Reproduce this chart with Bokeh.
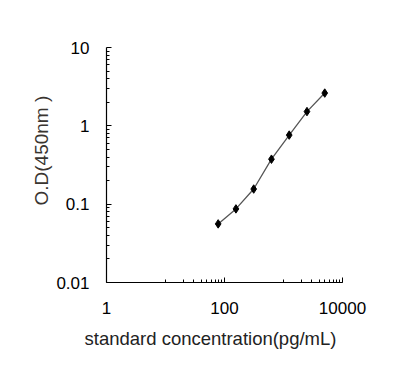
from bokeh.plotting import figure
from bokeh.models import FixedTicker, Range1d, Title
from bokeh.embed import file_html
from bokeh.resources import INLINE

# Standard curve data
conc = [78.125, 156.25, 312.5, 625, 1250, 2500, 5000]
od = [0.056, 0.087, 0.156, 0.375, 0.762, 1.52, 2.62]

# Tick positions
x_major = [1, 100, 10000]
x_minor = [10, 20, 30, 40, 50, 60, 70, 80, 90, 100,
           1000, 2000, 3000, 4000, 5000, 6000, 7000, 8000, 9000, 10000]
y_major = [0.01, 0.1, 1, 10]
y_minor = [0.02, 0.03, 0.04, 0.05, 0.06, 0.07, 0.08, 0.09,
           0.2, 0.3, 0.4, 0.5, 0.6, 0.7, 0.8, 0.9,
           2, 3, 4, 5, 6, 7, 8, 9]

x_title = "standard concentration(pg/mL)"
y_title = "O.D(450nm )"

FONT = "Liberation Sans"
W, H = 388, 361

p = figure(width=W, height=H, x_axis_type="log", y_axis_type="log",
           x_range=Range1d(1, 10000), y_range=Range1d(0.01, 10),
           output_backend="svg", toolbar_location=None,
           min_border_left=106, min_border_right=W - 342,
           min_border_top=47, min_border_bottom=H - 283)

p.outline_line_color = None
p.xgrid.visible = False
p.ygrid.visible = False
p.background_fill_color = "white"
p.border_fill_color = "white"

p.line(conc, od, line_color="#555555", line_width=1.3)
p.scatter(conc, od, marker="diamond", size=8.5, color="black")

for ax in (p.xaxis[0], p.yaxis[0]):
    ax.axis_line_color = "black"
    ax.axis_line_width = 1.2
    ax.major_tick_out = 0
    ax.major_tick_in = 5
    ax.minor_tick_out = 0
    ax.minor_tick_in = 3
    ax.major_tick_line_color = "black"
    ax.minor_tick_line_color = "black"
    ax.major_label_text_font = FONT
    ax.major_label_text_font_size = "17px"
    ax.major_label_text_color = "black"

p.xaxis.ticker = FixedTicker(ticks=x_major, minor_ticks=x_minor)
p.yaxis.ticker = FixedTicker(ticks=y_major, minor_ticks=y_minor)
p.xaxis.major_label_overrides = {1: "1", 100: "100", 10000: "10000"}
p.yaxis.major_label_overrides = {0.01: "0.01", 0.1: "0.1", 1: "1", 10: "10"}
p.xaxis.major_label_standoff = 19
p.yaxis.major_label_standoff = 17

p.add_layout(Title(text=x_title, align="left", offset=-22,
                   vertical_align="top", standoff=22,
                   text_font=FONT, text_font_size="18.5px",
                   text_font_style="normal", text_color="#222222"), "below")
p.add_layout(Title(text=y_title, align="left", offset=77,
                   vertical_align="bottom", standoff=4,
                   text_font=FONT, text_font_size="19px",
                   text_font_style="normal", text_color="#3a3530"), "left")

open("out.html", "w").write(file_html(p, INLINE))
